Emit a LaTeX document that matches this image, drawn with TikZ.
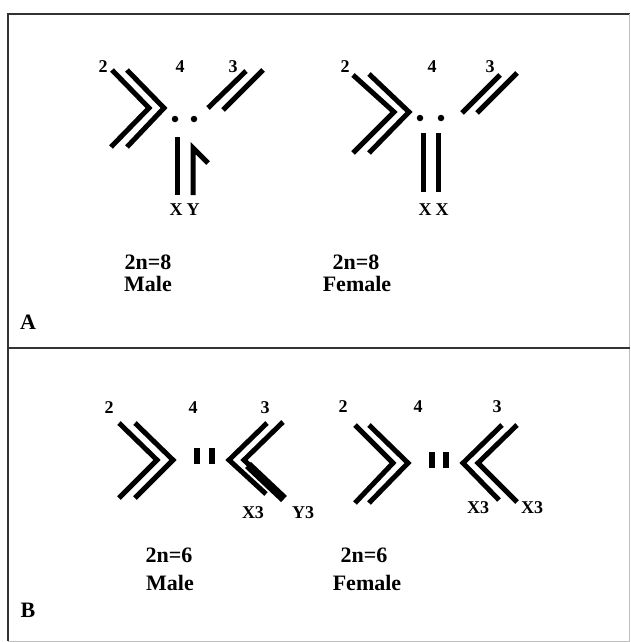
\documentclass[tikz,border=0pt]{standalone}
\usepackage{fontspec}
\setmainfont{Liberation Serif}
\usepackage{tikz}
\usetikzlibrary{shapes}
\tikzset{chrom/.style={draw=black, line width=5pt, line join=miter, fill=none},
  ychrom/.style={draw=black, line width=8.5pt},
  cen/.style={circle, fill=black, inner sep=0pt, minimum size=6.5pt},
  bar/.style={draw=black, line width=6pt},
  numlbl/.style={font=\bfseries\fontsize{18}{20}\selectfont, inner sep=0pt},
  sexlbl/.style={font=\bfseries\fontsize{18}{20}\selectfont, inner sep=0pt},
  caption/.style={font=\bfseries\fontsize{22}{24}\selectfont, inner sep=0pt},
  frame/.style={draw=black!80, line width=2pt}}

\begin{document}
\begin{tikzpicture}[x=1pt, y=-1pt]
\useasboundingbox (0,0) rectangle (630,642);
\draw[frame] (8,641) -- (8,14) -- (630,14);
\draw[frame, black!25, line width=1pt] (8,641) -- (630,641);
\draw[frame, black!25, line width=1pt] (629,14) -- (629,641);
\draw[frame] (8,348) -- (630,348);
% A male
 \node[numlbl] (am2) at (103,67) {2};
 \node[numlbl] (am4) at (180,67) {4};
 \node[numlbl] (am3) at (233,67) {3};
 \draw[chrom] (112,70) -- (149,108) -- (111,147);
 \draw[chrom] (127,70) -- (164,108) -- (127,147);
 \draw[chrom] (208,108) -- (246,71);
 \draw[chrom] (223,110) -- (263,70);
 \node[cen] (amc1) at (175,119) {};
 \node[cen] (amc2) at (194,119) {};
 \draw[chrom] (177,137) -- (177,195);
 \draw[chrom] (208,163) -- (193,148) -- (193,195);
 \node[sexlbl] (amx) at (176,210) {X};
 \node[sexlbl] (amy) at (193,210) {Y};
 \node[caption] (amn) at (148,262) {2n=8};
 \node[caption] (ams) at (148,284) {Male};
% A female
 \node[numlbl] (af2) at (345,67) {2};
 \node[numlbl] (af4) at (432,67) {4};
 \node[numlbl] (af3) at (490,67) {3};
 \draw[chrom] (353,75) -- (394,112) -- (353,153);
 \draw[chrom] (369,74) -- (409,112) -- (369,153);
 \draw[chrom] (462,113) -- (500,75);
 \draw[chrom] (477,113) -- (517,73);
 \node[cen] (afc1) at (420,118) {};
 \node[cen] (afc2) at (441,118) {};
 \draw[chrom] (423,133) -- (423,192);
 \draw[chrom] (438,133) -- (438,192);
 \node[sexlbl] (afx1) at (425,210) {X};
 \node[sexlbl] (afx2) at (442,210) {X};
 \node[caption] (afn) at (356,262) {2n=8};
 \node[caption] (afs) at (357,284) {Female};
 \node[caption] (pa) at (28,322) {A};
% B male
 \node[numlbl] (bm2) at (109,408) {2};
 \node[numlbl] (bm4) at (193,408) {4};
 \node[numlbl] (bm3) at (265,408) {3};
 \draw[chrom] (119,423) -- (157,460) -- (119,498);
 \draw[chrom] (135,423) -- (173,460) -- (135,498);
 \draw[bar] (197,448) -- (197,464);
 \draw[bar] (212,448) -- (212,464);
 \draw[chrom] (267,423) -- (229,460) -- (266,494);
 \draw[chrom] (283,422) -- (244,460) -- (283,498);
 \draw[ychrom] (248,465) -- (284,499);
 \node[sexlbl] (bmx) at (253,513) {X3};
 \node[sexlbl] (bmy) at (303,513) {Y3};
 \node[caption] (bmn) at (169,555) {2n=6};
 \node[caption] (bms) at (170,583) {Male};
% B female
 \node[numlbl] (bf2) at (343,407) {2};
 \node[numlbl] (bf4) at (418,407) {4};
 \node[numlbl] (bf3) at (497,407) {3};
 \draw[chrom] (355,425) -- (393,463) -- (355,503);
 \draw[chrom] (369,425) -- (408,463) -- (369,503);
 \draw[bar] (432,452) -- (432,468);
 \draw[bar] (446,452) -- (446,468);
 \draw[chrom] (502,425) -- (463,463) -- (499,500);
 \draw[chrom] (517,425) -- (478,463) -- (517,502);
 \node[sexlbl] (bfx1) at (478,508) {X3};
 \node[sexlbl] (bfx2) at (532,508) {X3};
 \node[caption] (bfn) at (364,555) {2n=6};
 \node[caption] (bfs) at (367,583) {Female};
 \node[caption] (pb) at (28,610) {B};
\end{tikzpicture}
\end{document}
